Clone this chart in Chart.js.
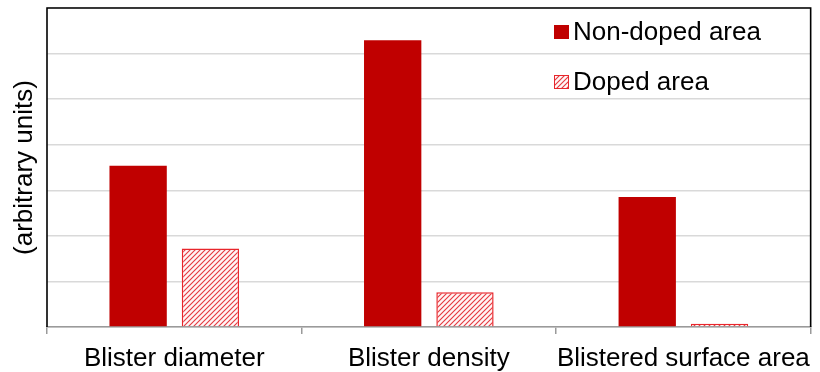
<!DOCTYPE html>
<html>
<head>
<meta charset="utf-8">
<script src="https://cdn.jsdelivr.net/npm/chart.js@4"></script>
<style>
  html, body { margin: 0; padding: 0; background: #fff; }
  #wrap { width: 820px; height: 372px; }
</style>
</head>
<body>
<div id="wrap"><canvas id="blisterChart" width="820" height="372"></canvas></div>
<script>
// values (arbitrary units, one gridline = 1)
const categories = ['Blister diameter', 'Blister density', 'Blistered surface area'];
const nonDoped = [3.54, 6.29, 2.85];
const doped = [1.72, 0.76, 0.07];
const seriesNames = ['Non-doped area', 'Doped area'];
const yMax = 7;

const FONT = '"Liberation Sans", Arial, sans-serif';

// diagonal hatch for the doped series
function makeHatch() {
    var c = document.createElement('canvas');
    c.width = 5; c.height = 5;
    var x = c.getContext('2d');
    x.fillStyle = '#fff6f6';
    x.fillRect(0, 0, 5, 5);
    x.strokeStyle = '#e4383f';
    x.lineWidth = 1.1;
    x.beginPath();
    x.moveTo(-1, 6); x.lineTo(6, -1);
    x.moveTo(-1, 1); x.lineTo(1, -1);
    x.moveTo(4, 6); x.lineTo(6, 4);
    x.stroke();
    return x.createPattern(c, 'repeat');
}

var ctx = document.getElementById('blisterChart').getContext('2d');
var hatch = makeHatch();

// frame around the plot + legend in the top right corner
const framePlugin = {
    id: 'frameAndLegend',
    afterDraw(chart) {
        const a = chart.chartArea;
        const c = chart.ctx;
        c.save();
        c.strokeStyle = '#000';
        c.lineWidth = 1.6;
        c.beginPath();
        c.moveTo(a.left, a.bottom);
        c.lineTo(a.left, a.top);
        c.lineTo(a.right, a.top);
        c.lineTo(a.right, a.bottom);
        c.stroke();

        c.font = '26px ' + FONT;
        c.textBaseline = 'alphabetic';
        chart.data.datasets.forEach((ds, i) => {
            const y = 32 + i * 50;
            c.fillStyle = ds.backgroundColor;
            c.fillRect(554, y - 7, 15, 14);
            c.strokeStyle = ds.borderColor;
            c.lineWidth = 1;
            c.strokeRect(554.5, y - 6.5, 14, 13);
            c.fillStyle = '#000';
            c.fillText(ds.label, 573, y + 8);
        });
        c.restore();
    }
};

var blisterChart = new Chart(ctx, {
    type: 'bar',
    data: {
        labels: categories,
        datasets: [{
            label: seriesNames[0],
            data: nonDoped,
            backgroundColor: '#c00000',
            borderColor: '#c00000',
            borderWidth: 0
        }, {
            label: seriesNames[1],
            data: doped,
            backgroundColor: hatch,
            borderColor: '#e8262c',
            borderWidth: 1.5
        }]
    },
    options: {
        responsive: false,
        animation: false,
        categoryPercentage: 0.568,
        barPercentage: 0.793,
        layout: { padding: { top: 8, right: 7, left: 0, bottom: 0 } },
        plugins: {
            legend: { display: false },
            tooltip: { enabled: false }
        },
        scales: {
            x: {
                grid: {
                    display: true,
                    drawOnChartArea: false,
                    drawTicks: true,
                    tickLength: 7,
                    color: '#9a9a9a',
                    lineWidth: 1.5
                },
                border: { display: true, color: '#9a9a9a', width: 1.5 },
                ticks: {
                    color: '#000',
                    font: { family: FONT, size: 26 },
                    padding: 9,
                    autoSkip: false,
                    maxRotation: 0
                },
                afterFit(scale) { scale.height = 45; }
            },
            y: {
                min: 0,
                max: yMax,
                ticks: { display: false, stepSize: 1 },
                grid: { color: '#d9d9d9', lineWidth: 1.5, drawTicks: false },
                border: { display: false },
                title: {
                    display: true,
                    text: '(arbitrary units)',
                    color: '#000',
                    font: { family: FONT, size: 26 },
                    padding: { top: 9, bottom: 0 }
                },
                afterFit(scale) { scale.width = 47; }
            }
        }
    },
    plugins: [framePlugin]
});
</script>
</body>
</html>
